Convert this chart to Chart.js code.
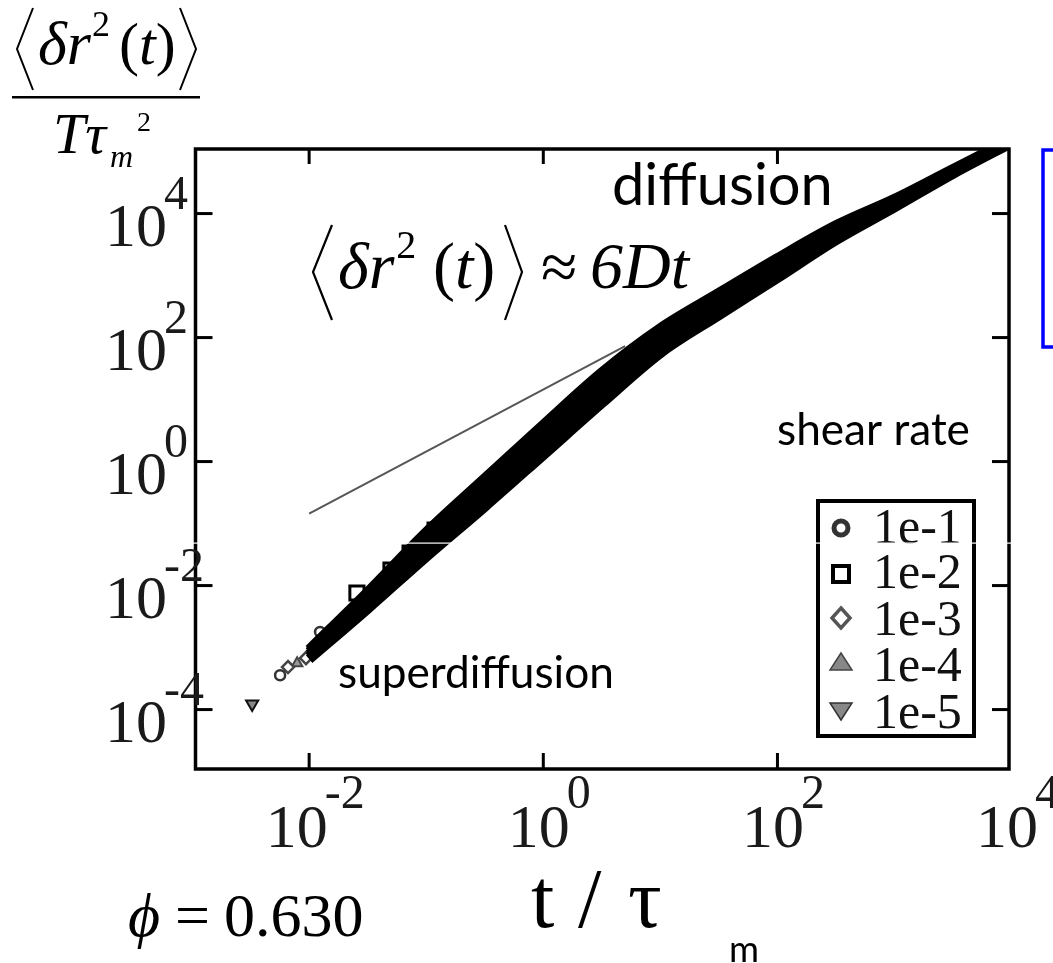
<!DOCTYPE html>
<html>
<head>
<meta charset="utf-8">
<script src="https://cdn.jsdelivr.net/npm/chart.js@4.4.0/dist/chart.umd.min.js"></script>
<style>
  html, body { margin: 0; padding: 0; background: #fff; }
  canvas { display: block; }
</style>
</head>
<body>
<canvas id="msdChart" width="1053" height="963"></canvas>
<script>
// shear rates, legend order
const shearRates = ["1e-1", "1e-2", "1e-3", "1e-4", "1e-5"];

// t / tau_m for the dense part of every curve
const bandTime = [0.01, 0.0316, 0.1, 0.316, 1, 3.16, 10, 31.6, 100, 316, 1000, 3162, 10000];

// <dr^2(t)> / (T tau_m^2), dense part (they overlap into one thick band)
const msd1e1 = [9.3e-4, 7.9e-3, 0.073, 0.54, 3.95, 27.5, 142, 525, 1910, 6460, 17300, 52600, 158000];
const msd1e2 = [8.5e-4, 6.8e-3, 0.057, 0.41, 2.96, 20.6, 112, 426, 1585, 5620, 16000, 50300, 152000];
const msd1e3 = [7.8e-4, 5.7e-3, 0.046, 0.32, 2.24, 15.5, 89, 347, 1315, 4900, 14800, 48000, 148000];
const msd1e4 = [7.1e-4, 4.9e-3, 0.036, 0.24, 1.7, 11.6, 71, 282, 1096, 4270, 13600, 45900, 143000];
const msd1e5 = [6.5e-4, 4.2e-3, 0.029, 0.186, 1.27, 8.7, 56, 229, 912, 3720, 12600, 43800, 138000];

// early, separately visible markers
const markTime1e1 = [0.00565, 0.0124];
const markMsd1e1 = [3.58e-4, 1.78e-3];
const markTime1e2 = [0.0256, 0.05, 0.0728, 0.119];
const markMsd1e2 = [7.6e-3, 0.0178, 0.0334, 0.0785];
const markTime1e3 = [0.0066, 0.0094];
const markMsd1e3 = [4.84e-4, 6.76e-4];
const markTime1e4 = [0.0079];
const markMsd1e4 = [5.6e-4];
const markTime1e5 = [0.00326];
const markMsd1e5 = [1.23e-4];

// diffusion guide line  <dr^2> ~ 6Dt
const fitTime = [0.01, 5];
const fitMsd = [0.145, 72.5];

// decade labels
const xTickPowers = [-2, 0, 2, 4];
const yTickPowers = [4, 2, 0, -2, -4];

const SERIF = '"Liberation Serif", "Times New Roman", serif';
const SANS = 'Lato, "Open Sans", sans-serif';

function pts(xs, ys) {
  return xs.map((x, i) => ({ x: x, y: ys[i] }));
}

const bandSeries = [msd1e1, msd1e2, msd1e3, msd1e4, msd1e5];
const markSeries = [
  [markTime1e1, markMsd1e1],
  [markTime1e2, markMsd1e2],
  [markTime1e3, markMsd1e3],
  [markTime1e4, markMsd1e4],
  [markTime1e5, markMsd1e5],
];
const markStyle = [
  { pointStyle: "circle", pointRadius: 5, pointRotation: 0, pointBorderWidth: 2.5, pointBorderColor: "#333", pointBackgroundColor: "#fff" },
  { pointStyle: "rect", pointRadius: 10, pointRotation: 0, pointBorderWidth: 3, pointBorderColor: "#000", pointBackgroundColor: "#fff" },
  { pointStyle: "rectRot", pointRadius: 6, pointRotation: 0, pointBorderWidth: 2.5, pointBorderColor: "#444", pointBackgroundColor: "#fff" },
  { pointStyle: "triangle", pointRadius: 6, pointRotation: 0, pointBorderWidth: 2, pointBorderColor: "#444", pointBackgroundColor: "#999" },
  { pointStyle: "triangle", pointRadius: 7, pointRotation: 180, pointBorderWidth: 2, pointBorderColor: "#111", pointBackgroundColor: "#888" },
];

const datasets = [];
bandSeries.forEach((msd, i) => {
  datasets.push({
    label: shearRates[i],
    data: pts(bandTime, msd),
    showLine: true,
    borderColor: "#000",
    borderWidth: 10,
    borderJoinStyle: "round",
    cubicInterpolationMode: "monotone",
    pointRadius: 0,
    clip: 0,
    order: 1,
  });
});
markSeries.forEach((m, i) => {
  datasets.push(Object.assign({
    label: shearRates[i] + " markers",
    data: pts(m[0], m[1]),
    showLine: false,
    order: 2,
  }, markStyle[i]));
});
datasets.push({
  label: "6Dt",
  data: pts(fitTime, fitMsd),
  showLine: true,
  borderColor: "rgba(30, 30, 30, 0.75)",
  borderWidth: 2,
  pointRadius: 0,
  clip: 0,
  order: 0,
});

function fitText(ctx, s, x, y, width, family) {
  ctx.font = "100px " + family;
  const w = ctx.measureText(s).width;
  ctx.font = (100 * width / w).toFixed(1) + "px " + family;
  ctx.textAlign = "left";
  ctx.fillText(s, x, y);
}

function put(ctx, s, x, y, font) {
  ctx.font = font;
  ctx.textAlign = "left";
  ctx.fillText(s, x, y);
  return ctx.measureText(s).width;
}

function poly(ctx, p, width) {
  ctx.beginPath();
  ctx.moveTo(p[0][0], p[0][1]);
  for (let i = 1; i < p.length; i++) ctx.lineTo(p[i][0], p[i][1]);
  ctx.lineWidth = width;
  ctx.stroke();
}

function legendMarker(ctx, i, x, y) {
  ctx.save();
  ctx.beginPath();
  if (i === 0) {
    ctx.arc(x, y, 7, 0, Math.PI * 2);
    ctx.lineWidth = 5; ctx.strokeStyle = "#333"; ctx.stroke();
  } else if (i === 1) {
    ctx.rect(x - 8, y - 8, 16, 16);
    ctx.lineWidth = 4; ctx.strokeStyle = "#000"; ctx.stroke();
  } else if (i === 2) {
    ctx.moveTo(x, y - 10); ctx.lineTo(x + 9, y); ctx.lineTo(x, y + 10); ctx.lineTo(x - 9, y); ctx.closePath();
    ctx.lineWidth = 3.5; ctx.strokeStyle = "#555"; ctx.stroke();
  } else if (i === 3) {
    ctx.moveTo(x, y - 9); ctx.lineTo(x + 11, y + 8); ctx.lineTo(x - 11, y + 8); ctx.closePath();
    ctx.fillStyle = "#888"; ctx.fill();
    ctx.lineWidth = 1.5; ctx.strokeStyle = "#444"; ctx.stroke();
  } else {
    ctx.moveTo(x - 11, y - 8); ctx.lineTo(x + 11, y - 8); ctx.lineTo(x, y + 9); ctx.closePath();
    ctx.fillStyle = "#888"; ctx.fill();
    ctx.lineWidth = 1.5; ctx.strokeStyle = "#333"; ctx.stroke();
  }
  ctx.restore();
}

const decorations = {
  id: "decorations",
  afterDraw(chart) {
    const ctx = chart.ctx;
    const a = chart.chartArea;
    const xs = chart.scales.x;
    const ys = chart.scales.y;
    ctx.save();
    ctx.strokeStyle = "#000";
    ctx.fillStyle = "#000";
    ctx.textBaseline = "alphabetic";

    // frame
    ctx.lineWidth = 3.5;
    ctx.strokeRect(a.left, a.top, a.right - a.left, a.bottom - a.top);

    // inward ticks on all four sides
    xTickPowers.forEach((p) => {
      const x = xs.getPixelForValue(Math.pow(10, p));
      if (x > a.right - 5) return;
      poly(ctx, [[x, a.bottom], [x, a.bottom - 16]], 3);
      poly(ctx, [[x, a.top], [x, a.top + 15]], 3);
    });
    yTickPowers.forEach((p) => {
      const y = ys.getPixelForValue(Math.pow(10, p));
      poly(ctx, [[a.left, y], [a.left + 17, y]], 3);
      poly(ctx, [[a.right, y], [a.right - 17, y]], 3);
    });

    // tick labels 10^n
    ctx.fillStyle = "#1a1a1a";
    yTickPowers.forEach((p) => {
      const y = ys.getPixelForValue(Math.pow(10, p));
      ctx.font = "62px " + SERIF;
      ctx.textAlign = "right";
      ctx.fillText("10", 167, y + 32);
      put(ctx, String(p), 164, y - 5, "48px " + SERIF);
    });
    xTickPowers.forEach((p) => {
      const x = xs.getPixelForValue(Math.pow(10, p));
      ctx.font = "62px " + SERIF;
      const w10 = ctx.measureText("10").width;
      ctx.font = "48px " + SERIF;
      const we = ctx.measureText(String(p)).width;
      const start = x + 6 - (w10 + we - 3) / 2;
      put(ctx, "10", start, 847, "62px " + SERIF);
      put(ctx, String(p), start + w10 - 3, 808, "48px " + SERIF);
    });

    ctx.fillStyle = "#000";
    ctx.strokeStyle = "#000";

    // y title: <dr^2(t)> / (T tau_m^2)
    poly(ctx, [[33, 8], [17, 49], [33, 90]], 2);
    poly(ctx, [[180, 8], [196, 49], [180, 90]], 2);
    let w = put(ctx, "δr", 38, 64, "italic 62px " + SERIF);
    put(ctx, "2", 38 + w + 1, 36, "36px " + SERIF);
    let cx = 119;
    cx += put(ctx, "(", cx, 64, "60px " + SERIF);
    cx += put(ctx, "t", cx, 64, "italic 60px " + SERIF);
    put(ctx, ")", cx, 64, "60px " + SERIF);
    ctx.fillRect(12, 96, 188, 2.5);
    put(ctx, "Tτ", 53, 153, "italic 58px " + SERIF);
    put(ctx, "m", 110, 167, "italic 32px " + SERIF);
    put(ctx, "2", 137, 131, "28px " + SERIF);

    // equation inside the plot
    poly(ctx, [[332, 225], [313, 272], [332, 320]], 2.2);
    poly(ctx, [[505, 225], [522, 272], [505, 320]], 2.2);
    w = put(ctx, "δr", 338, 288, "italic 66px " + SERIF);
    put(ctx, "2", 338 + w + 2, 258, "40px " + SERIF);
    cx = 433;
    cx += put(ctx, "(", cx, 288, "66px " + SERIF);
    cx += put(ctx, "t", cx, 288, "italic 66px " + SERIF);
    put(ctx, ")", cx, 288, "66px " + SERIF);
    put(ctx, "≈", 541, 289, "66px " + SERIF);
    put(ctx, "6Dt", 590, 288, "italic 66px " + SERIF);

    // region notes
    fitText(ctx, "diffusion", 612, 205, 221, SANS);
    fitText(ctx, "shear rate", 777, 445, 193, SANS);
    fitText(ctx, "superdiffusion", 338, 688, 276, SANS);

    // legend box
    ctx.lineWidth = 4;
    ctx.strokeRect(818, 501, 156, 235);
    const rowY = [528, 574, 618, 662, 711];
    const baseY = [543, 588, 635, 681, 728];
    shearRates.forEach((lab, i) => {
      legendMarker(ctx, i, 841, rowY[i]);
      ctx.fillStyle = "#111";
      put(ctx, lab, 873, baseY[i], "50px " + SERIF);
    });
    ctx.fillStyle = "#000";

    // x title  t / tau_m
    put(ctx, "t", 531, 927, "84px " + SERIF);
    put(ctx, "/", 578, 927, "84px " + SERIF);
    put(ctx, "τ", 628, 927, "84px " + SERIF);
    fitText(ctx, "m", 729, 962, 30, SANS);

    // phi = 0.630
    put(ctx, "ϕ", 128, 936, "italic 62px " + SERIF);
    put(ctx, "=", 175, 936, "62px " + SERIF);
    put(ctx, "0.630", 224, 936, "62px " + SERIF);

    // blue bracket at right edge
    ctx.strokeStyle = "#0000ff";
    poly(ctx, [[1056, 150], [1043, 150], [1043, 347], [1056, 347]], 3.5);

    // thin white seam across the picture
    ctx.fillStyle = "#fff";
    ctx.fillRect(0, 542.5, 1053, 1.2);
    ctx.restore();
  },
};

new Chart(document.getElementById("msdChart"), {
  type: "scatter",
  data: { datasets: datasets },
  options: {
    responsive: false,
    animation: false,
    events: [],
    layout: { padding: { left: 195.5, right: 44, top: 149, bottom: 194 } },
    plugins: {
      legend: { display: false },
      tooltip: { enabled: false },
    },
    scales: {
      x: { type: "logarithmic", min: 1.07e-3, max: 9.5e3, display: false },
      y: { type: "logarithmic", min: 1.1e-5, max: 1.1e5, display: false },
    },
  },
  plugins: [decorations],
});
</script>
</body>
</html>
